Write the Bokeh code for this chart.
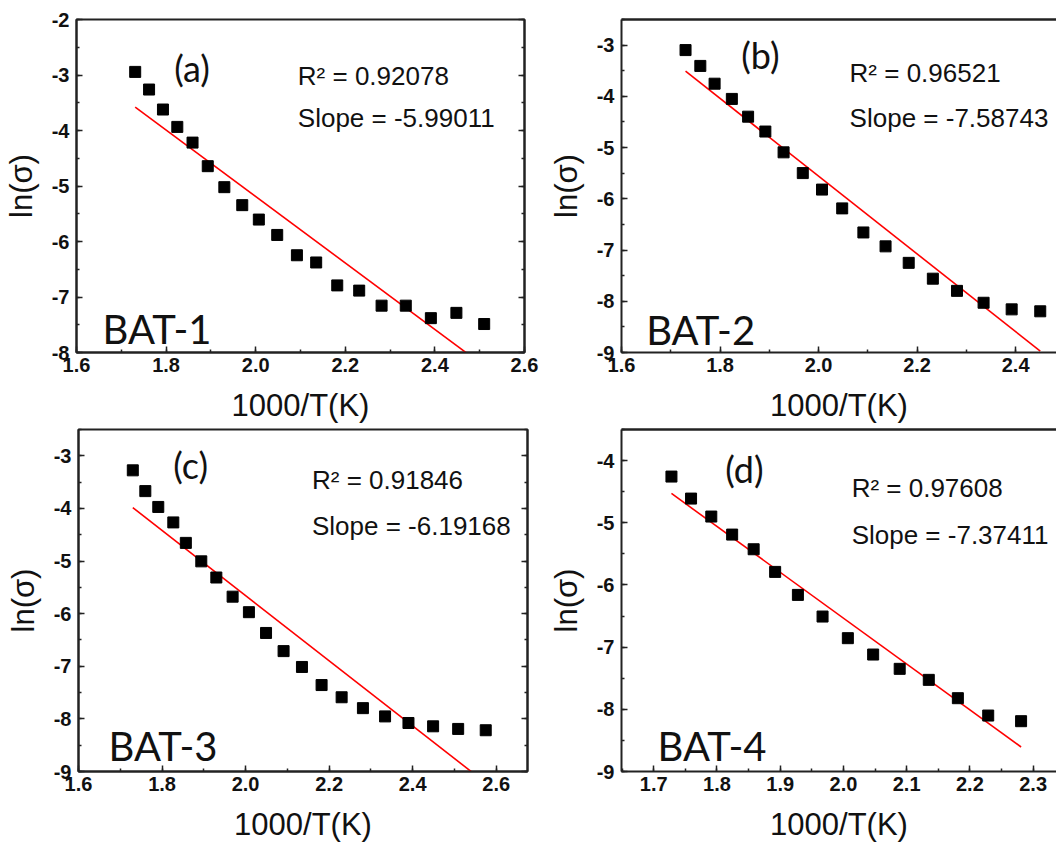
from bokeh.plotting import figure
from bokeh.layouts import column, row
from bokeh.models import (Range1d, SingleIntervalTicker, NumeralTickFormatter, LinearAxis, Label,
                          CustomJSTickFormatter)
from bokeh.embed import file_html
from bokeh.resources import INLINE

# ---------------- data ----------------
x_a = [1.731, 1.762, 1.793, 1.825, 1.859, 1.893, 1.930, 1.970, 2.007, 2.048,
       2.092, 2.135, 2.182, 2.231, 2.281, 2.335, 2.391, 2.448, 2.510]
y_a = [-2.944, -3.262, -3.622, -3.935, -4.218, -4.643, -5.021, -5.345, -5.605, -5.882,
       -6.248, -6.378, -6.791, -6.885, -7.156, -7.156, -7.381, -7.286, -7.487]

x_b = [1.730, 1.760, 1.789, 1.824, 1.857, 1.892, 1.929, 1.968, 2.007, 2.048,
       2.091, 2.136, 2.183, 2.232, 2.281, 2.335, 2.392, 2.450]
y_b = [-3.097, -3.406, -3.753, -4.050, -4.397, -4.687, -5.093, -5.498, -5.820, -6.187,
       -6.657, -6.928, -7.250, -7.559, -7.797, -8.029, -8.158, -8.196]

x_c = [1.730, 1.760, 1.791, 1.827, 1.857, 1.894, 1.930, 1.969, 2.008, 2.049,
       2.091, 2.135, 2.182, 2.230, 2.281, 2.334, 2.390, 2.449, 2.509, 2.575]
y_c = [-3.276, -3.671, -3.972, -4.266, -4.655, -5.006, -5.313, -5.677, -5.972, -6.367,
       -6.712, -7.013, -7.357, -7.589, -7.796, -7.953, -8.078, -8.141, -8.191, -8.216]

x_d = [1.728, 1.759, 1.791, 1.824, 1.858, 1.892, 1.928, 1.967, 2.007, 2.047,
       2.089, 2.135, 2.181, 2.229, 2.281]
y_d = [-4.257, -4.611, -4.900, -5.190, -5.426, -5.790, -6.160, -6.508, -6.856, -7.119,
       -7.349, -7.526, -7.821, -8.100, -8.191]

# linear fits as printed in the figure (slope) and read intercepts
slopes = [-5.99011, -7.58743, -6.19168, -7.37411]
intercepts = [6.791, 9.617, 6.727, 8.214]
r2_values = ["0.92078", "0.96521", "0.91846", "0.97608"]
panel_tags = ["(a)", "(b)", "(c)", "(d)"]
sample_names = ["BAT-1", "BAT-2", "BAT-3", "BAT-4"]

x_title = "1000/T(K)"
y_title = "ln(\u03c3)"

LAB_FONT = "Liberation Sans"
TAG_FONT = "Lato"

TICK_STYLE = dict(
    axis_line_width=2, axis_line_color="#222222",
    major_tick_in=6, major_tick_out=0, minor_tick_in=3, minor_tick_out=0,
    major_tick_line_width=1.5, minor_tick_line_width=1.5,
    major_tick_line_color="#222222", minor_tick_line_color="#222222",
)
LABEL_STYLE = dict(
    major_label_text_font="Arial", major_label_text_font_style="bold",
    major_label_text_font_size="20px", major_label_text_color="#111111",
    axis_label_text_font=LAB_FONT, axis_label_text_font_style="normal",
    axis_label_text_font_size="31px", axis_label_text_color="#111111",
)


def make_panel(xs, ys, slope, icpt, r2, tag, name, xr, yr, xint,
               width, height, borders, closed_frame, pos):
    bl, br, bt, bb = borders
    p = figure(width=width, height=height, output_backend="svg", toolbar_location=None,
               x_range=Range1d(*xr), y_range=Range1d(*yr), x_axis_location=None, y_axis_location=None,
               min_border_left=bl, min_border_right=br, min_border_top=bt, min_border_bottom=bb)
    p.xgrid.visible = False
    p.ygrid.visible = False
    p.background_fill_color = "white"
    p.border_fill_color = "white"

    xa = LinearAxis(ticker=SingleIntervalTicker(interval=xint, num_minor_ticks=2),
                    formatter=NumeralTickFormatter(format="0.0"),
                    axis_label=x_title, major_label_standoff=5, axis_label_standoff=13,
                    **TICK_STYLE, **LABEL_STYLE)
    p.add_layout(xa, "below")
    ya = LinearAxis(ticker=SingleIntervalTicker(interval=1, num_minor_ticks=2),
                    formatter=NumeralTickFormatter(format="0"),
                    axis_label=y_title, major_label_standoff=7, axis_label_standoff=10,
                    **TICK_STYLE, **LABEL_STYLE)
    p.add_layout(ya, "left")

    if closed_frame:
        p.outline_line_color = "#222222"
        p.outline_line_width = 2
        ra = LinearAxis(ticker=SingleIntervalTicker(interval=1, num_minor_ticks=2),
                        formatter=CustomJSTickFormatter(code="return '';"),
                        major_label_standoff=0, **TICK_STYLE)
        p.add_layout(ra, "right")
    else:
        # frame continues past the right edge of the page: only the top line shows
        p.outline_line_color = None
        ta = LinearAxis(ticker=SingleIntervalTicker(interval=xint, num_minor_ticks=2),
                        formatter=CustomJSTickFormatter(code="return '';"),
                        major_label_standoff=0, axis_line_width=2.5, axis_line_color="#222222",
                        major_tick_line_color=None, minor_tick_line_color=None,
                        major_tick_in=0, major_tick_out=0, minor_tick_in=0, minor_tick_out=0)
        p.add_layout(ta, "above")

    fx = [min(xs), max(xs)]
    fy = [icpt + slope * v for v in fx]
    p.line(fx, fy, line_color="red", line_width=1.6)
    p.scatter(xs, ys, marker="square", size=11, fill_color="black", line_color="black")

    tx, ty, rx, ry1, ry2, bx, by = pos
    p.add_layout(Label(x=tx, y=ty, text=tag, text_font=TAG_FONT, text_font_size="36px",
                       text_baseline="middle", text_color="#111111"))
    p.add_layout(Label(x=rx, y=ry1, text="R\u00b2 = " + r2, text_font=LAB_FONT,
                       text_font_size="26px", text_baseline="alphabetic", text_color="#111111"))
    p.add_layout(Label(x=rx, y=ry2, text="Slope = " + ("%.5f" % slope), text_font=LAB_FONT,
                       text_font_size="26px", text_baseline="alphabetic", text_color="#111111"))
    p.add_layout(Label(x=bx, y=by, text=name, text_font=TAG_FONT, text_font_size="40px",
                       text_baseline="alphabetic", text_color="#111111"))
    return p


pa = make_panel(x_a, y_a, slopes[0], intercepts[0], r2_values[0], panel_tags[0], sample_names[0],
                (1.6, 2.6), (-8, -2), 0.2, 545, 425, (76, 21, 19, 67), True,
                (1.818, -2.867, 2.094, -3.027, -3.770, 1.658, -7.575))
pb = make_panel(x_b, y_b, slopes[1], intercepts[1], r2_values[1], panel_tags[1], sample_names[1],
                (1.6, 2.483), (-9, -2.5), 0.2, 511, 425, (68, 0, 15, 73), False,
                (1.843, -3.199, 2.063, -3.547, -4.416, 1.650, -8.569))
pc = make_panel(x_c, y_c, slopes[2], intercepts[2], r2_values[2], panel_tags[2], sample_names[2],
                (1.6, 2.675), (-9, -2.5), 0.2, 545, 419, (78, 18, 4, 69), True,
                (1.827, -3.184, 2.159, -3.451, -4.329, 1.672, -8.517))
pd_ = make_panel(x_d, y_d, slopes[3], intercepts[3], r2_values[3], panel_tags[3], sample_names[3],
                 (1.649, 2.337), (-9, -3.5), 0.1, 511, 419, (64, 0, 4, 73), False,
                 (1.813, -4.134, 2.013, -4.439, -5.190, 1.706, -8.582))

layout = column(row(pa, pb, spacing=0), row(pc, pd_, spacing=0), spacing=0)
open("out.html", "w").write(file_html(layout, INLINE))
